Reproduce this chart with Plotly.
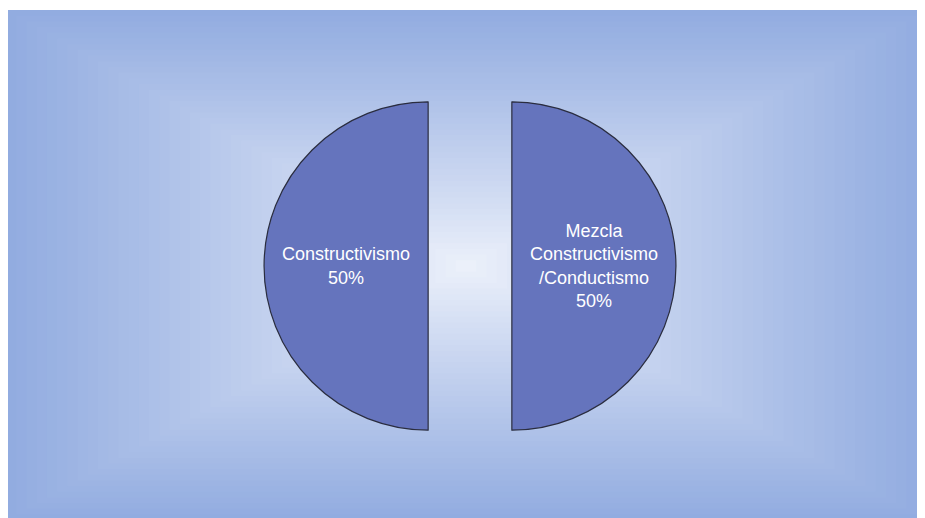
import plotly.graph_objects as go

# Data
labels = ["Constructivismo", "Mezcla Constructivismo/Conductismo"]
display_labels = ["Constructivismo", "Mezcla<br>Constructivismo<br>/Conductismo"]
values = [50, 50]

OFF = 8  # page body margin offset
W, H = 925 - OFF, 518 - OFF

fig = go.Figure()

cxp, cyp = 470 - OFF, 266 - OFF
half = 206
fig.add_trace(go.Pie(
    labels=labels,
    values=values,
    customdata=display_labels,
    texttemplate="%{customdata}<br>%{percent:.0%}",
    textinfo="text",
    textposition="inside",
    insidetextorientation="horizontal",
    insidetextfont=dict(family="Liberation Sans, Arial, sans-serif", size=18, color="white"),
    marker=dict(colors=["#6574bd", "#6574bd"], line=dict(color="#2a2d3f", width=1.2)),
    pull=[0.255, 0.255],
    sort=False,
    direction="clockwise",
    rotation=180,
    hole=0,
    showlegend=False,
    domain=dict(x=[(cxp - 240) / W, (cxp + 240) / W],
                y=[1 - (cyp + half) / H, 1 - (cyp - half) / H]),
))

# Background gradient (rectangular, light centre, blue edges)
shapes = []
x0p, x1p, y0p, y1p = 6 - OFF, W + 2, 10 - OFF, H + 2
cx, cy = 466 - OFF, 266 - OFF
edge = (146, 172, 224)
centre = (238, 242, 251)
N = 45
for i in range(N):
    t = 1 - i / N
    c = tuple(int(round(centre[k] + (edge[k] - centre[k]) * (t ** 0.9))) for k in range(3))
    xa = max(cx - (cx - x0p) * t, 0)
    xb = cx + (x1p - cx) * t
    ya = cy - (cy - y0p) * t
    yb = cy + (y1p - cy) * t
    shapes.append(dict(
        type="rect", xref="paper", yref="paper", layer="below",
        x0=xa / W, x1=xb / W, y0=1 - yb / H, y1=1 - ya / H,
        line=dict(width=0), fillcolor="rgb(%d,%d,%d)" % c,
    ))

fig.update_layout(
    width=W, height=H,
    margin=dict(l=0, r=0, t=0, b=0),
    paper_bgcolor="white",
    plot_bgcolor="white",
    shapes=shapes,
)

fig.write_html("out.html")
